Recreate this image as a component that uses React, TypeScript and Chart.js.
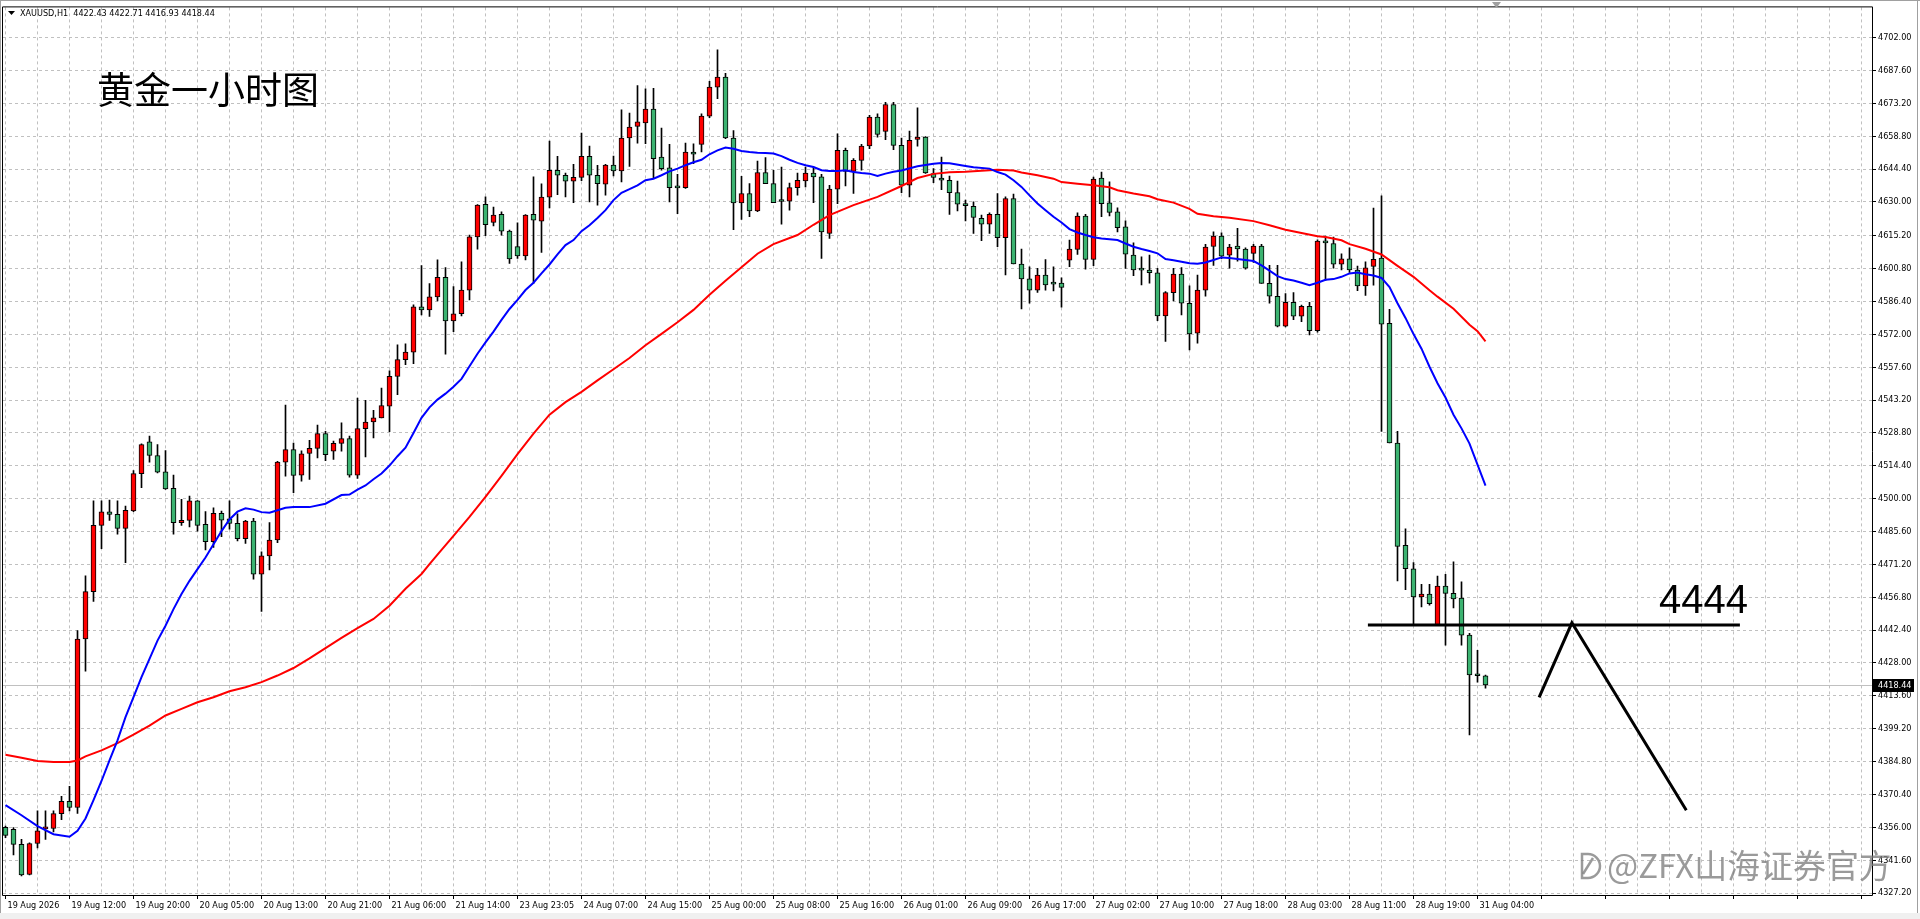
import React, { useEffect, useRef } from 'react';
import { Chart, registerables } from 'chart.js';

Chart.register(...registerables);

// ---------- data (XAUUSD H1) ----------
const opens = [
  4356.0, 4355.1, 4348.5, 4335.4, 4348.9, 4355.3, 4355.5, 4362.0, 4367.4, 4364.7,
  4438.5, 4459.3, 4488.3, 4494.2, 4493.1, 4487.0, 4494.6, 4511.0, 4524.9, 4518.9,
  4511.8, 4504.5, 4489.5, 4490.5, 4499.0, 4488.8, 4481.2, 4493.6, 4491.2, 4489.2,
  4482.5, 4490.2, 4466.9, 4474.9, 4481.9, 4516.0, 4521.5, 4510.3, 4519.8, 4522.0,
  4528.5, 4520.8, 4524.2, 4526.3, 4510.3, 4530.7, 4533.6, 4535.4, 4540.5, 4553.6,
  4560.9, 4564.2, 4584.0, 4582.7, 4588.4, 4597.0, 4577.9, 4581.0, 4591.4, 4614.7,
  4629.0, 4621.0, 4624.6, 4617.2, 4610.4, 4606.4, 4624.6, 4621.6, 4632.1, 4643.9,
  4641.7, 4639.1, 4640.8, 4650.0, 4641.7, 4637.8, 4646.1, 4643.6, 4658.0, 4663.1,
  4664.6, 4670.7, 4649.7, 4644.9, 4636.4, 4636.3, 4651.9, 4655.2, 4667.6, 4680.3,
  4684.7, 4658.0, 4629.6, 4633.7, 4626.1, 4642.9, 4638.0, 4630.4, 4630.3, 4636.3,
  4639.2, 4642.7, 4641.0, 4616.2, 4635.6, 4652.6, 4643.4, 4648.2, 4654.5, 4667.2,
  4660.9, 4672.7, 4654.8, 4637.3, 4657.4, 4658.4, 4642.4, 4640.5, 4639.5, 4634.1,
  4628.6, 4628.1, 4622.8, 4620.3, 4624.6, 4614.4, 4631.5, 4602.8, 4596.3, 4591.4,
  4598.0, 4594.1, 4594.4, 4604.5, 4609.2, 4623.8, 4604.8, 4640.5, 4629.6, 4625.7,
  4619.1, 4606.7, 4600.3, 4600.2, 4599.0, 4580.1, 4590.3, 4598.4, 4585.6, 4572.5,
  4591.4, 4610.5, 4615.0, 4606.7, 4610.7, 4609.4, 4607.5, 4610.7, 4594.3, 4588.7,
  4575.6, 4586.0, 4580.0, 4584.3, 4573.6, 4612.9, 4611.8, 4602.7, 4605.1, 4600.2,
  4593.2, 4601.8, 4605.4, 4576.8, 4524.4, 4479.6, 4469.3, 4456.9, 4458.2, 4444.7,
  4461.7, 4458.5, 4456.4, 4440.2, 4422.6, 4422.43,
];
const highs = [
  4356.5, 4355.9, 4350.7, 4349.2, 4363.2, 4363.2, 4363.2, 4369.6, 4374.0, 4442.2,
  4466.2, 4499.0, 4499.0, 4499.4, 4499.0, 4496.8, 4512.3, 4524.0, 4527.4, 4523.7,
  4521.1, 4510.3, 4499.7, 4501.1, 4499.2, 4494.3, 4496.0, 4494.6, 4499.0, 4493.4,
  4490.5, 4491.4, 4476.7, 4489.5, 4516.4, 4541.0, 4524.4, 4521.0, 4525.6, 4532.2,
  4529.5, 4525.2, 4533.2, 4527.4, 4544.1, 4543.1, 4538.7, 4548.5, 4556.0, 4567.4,
  4567.8, 4584.9, 4602.1, 4594.2, 4604.6, 4601.3, 4592.9, 4603.8, 4615.5, 4628.9,
  4632.2, 4627.8, 4625.7, 4617.7, 4620.9, 4624.5, 4641.0, 4637.9, 4656.7, 4650.0,
  4642.7, 4646.5, 4660.2, 4654.5, 4646.0, 4646.5, 4650.1, 4670.4, 4668.9, 4681.0,
  4679.6, 4679.8, 4662.4, 4655.2, 4642.1, 4655.8, 4655.5, 4668.6, 4682.9, 4696.7,
  4686.4, 4661.3, 4641.2, 4638.0, 4647.9, 4649.4, 4643.9, 4645.3, 4638.3, 4642.7,
  4645.3, 4645.3, 4642.1, 4637.3, 4659.9, 4653.6, 4649.0, 4655.2, 4667.9, 4668.6,
  4673.7, 4673.7, 4658.0, 4661.1, 4671.2, 4658.6, 4644.6, 4649.7, 4641.3, 4639.1,
  4630.8, 4630.0, 4624.2, 4625.2, 4633.7, 4632.2, 4633.4, 4609.4, 4601.6, 4600.9,
  4604.8, 4601.6, 4596.8, 4613.3, 4625.2, 4624.6, 4640.9, 4643.1, 4638.8, 4627.4,
  4621.7, 4612.1, 4606.0, 4606.7, 4600.9, 4590.7, 4600.9, 4601.2, 4593.3, 4598.0,
  4611.4, 4616.9, 4616.5, 4611.4, 4618.4, 4609.9, 4611.4, 4611.4, 4602.2, 4602.2,
  4589.8, 4590.3, 4584.8, 4586.0, 4613.4, 4615.0, 4614.6, 4607.3, 4609.9, 4601.9,
  4603.8, 4627.3, 4632.7, 4582.9, 4529.5, 4486.8, 4472.0, 4462.5, 4462.5, 4466.1,
  4466.9, 4472.3, 4463.6, 4441.0, 4433.6, 4422.71,
];
const lows = [
  4351.5, 4343.9, 4334.7, 4335.1, 4347.0, 4350.7, 4354.0, 4359.4, 4363.2, 4362.1,
  4424.4, 4455.0, 4478.1, 4490.5, 4484.4, 4472.0, 4494.3, 4504.8, 4516.0, 4511.3,
  4504.0, 4484.4, 4488.3, 4487.6, 4485.8, 4477.5, 4478.6, 4483.4, 4486.6, 4481.5,
  4480.4, 4464.7, 4450.6, 4468.8, 4480.7, 4509.9, 4502.6, 4507.7, 4508.4, 4517.9,
  4516.7, 4517.2, 4520.8, 4509.4, 4508.9, 4518.3, 4526.6, 4535.4, 4529.3, 4545.6,
  4558.7, 4559.1, 4580.5, 4579.9, 4586.6, 4563.3, 4573.2, 4580.1, 4587.1, 4609.3,
  4615.2, 4619.5, 4615.5, 4603.1, 4605.3, 4604.6, 4594.3, 4607.9, 4627.4, 4633.2,
  4632.2, 4629.7, 4639.3, 4630.0, 4628.6, 4633.0, 4641.4, 4638.8, 4645.6, 4655.8,
  4655.5, 4640.2, 4643.9, 4630.0, 4624.9, 4635.9, 4646.8, 4651.9, 4666.9, 4675.2,
  4657.7, 4617.9, 4622.3, 4623.5, 4625.7, 4638.0, 4629.7, 4620.3, 4626.4, 4633.0,
  4636.6, 4629.7, 4605.3, 4614.0, 4629.3, 4637.0, 4633.7, 4643.9, 4653.3, 4658.4,
  4657.3, 4652.9, 4634.1, 4632.2, 4654.4, 4642.5, 4638.5, 4635.4, 4624.5, 4626.1,
  4621.7, 4616.2, 4613.0, 4616.2, 4610.4, 4598.0, 4602.8, 4583.1, 4585.6, 4590.4,
  4591.4, 4591.0, 4583.9, 4601.6, 4607.0, 4600.6, 4602.1, 4623.5, 4623.9, 4616.9,
  4600.9, 4597.7, 4593.6, 4594.4, 4578.0, 4568.9, 4586.6, 4580.5, 4565.2, 4568.1,
  4588.7, 4602.2, 4605.1, 4601.0, 4604.1, 4600.6, 4603.5, 4594.3, 4585.6, 4575.2,
  4575.2, 4578.4, 4577.6, 4571.7, 4572.9, 4595.6, 4601.0, 4600.2, 4599.1, 4591.1,
  4589.1, 4593.5, 4529.5, 4524.4, 4464.0, 4460.1, 4444.7, 4452.6, 4453.3, 4444.7,
  4435.8, 4452.1, 4435.8, 4396.5, 4419.6, 4416.93,
];
const closes = [
  4352.5, 4348.5, 4335.1, 4348.9, 4354.5, 4355.6, 4362.0, 4367.4, 4364.7, 4438.5,
  4459.3, 4488.3, 4494.2, 4493.1, 4487.0, 4494.9, 4511.0, 4523.7, 4518.9, 4511.6,
  4504.3, 4489.5, 4490.5, 4499.0, 4488.3, 4481.2, 4493.6, 4490.6, 4489.2, 4482.5,
  4490.2, 4466.9, 4474.9, 4481.9, 4516.0, 4521.5, 4510.2, 4519.6, 4522.0, 4528.5,
  4519.3, 4524.2, 4526.3, 4510.3, 4530.7, 4533.6, 4535.4, 4540.8, 4553.6, 4560.9,
  4564.2, 4584.0, 4582.7, 4588.4, 4597.0, 4577.9, 4581.0, 4591.4, 4614.7, 4628.6,
  4620.1, 4624.2, 4617.2, 4605.0, 4606.4, 4624.2, 4622.0, 4632.1, 4643.9, 4641.7,
  4639.1, 4640.8, 4650.0, 4641.7, 4638.0, 4646.1, 4643.6, 4658.0, 4662.8, 4665.1,
  4670.7, 4649.0, 4644.6, 4636.3, 4636.2, 4651.9, 4650.9, 4667.6, 4680.3, 4684.7,
  4658.0, 4629.6, 4633.7, 4626.1, 4642.9, 4638.0, 4629.7, 4630.2, 4636.3, 4639.5,
  4642.7, 4641.0, 4616.9, 4635.6, 4652.6, 4643.4, 4648.2, 4654.5, 4667.2, 4659.6,
  4672.7, 4654.8, 4637.3, 4657.0, 4658.4, 4642.7, 4640.7, 4639.5, 4634.1, 4629.0,
  4628.4, 4623.2, 4620.3, 4624.6, 4614.4, 4631.5, 4602.8, 4596.3, 4591.4, 4598.0,
  4593.6, 4594.0, 4592.6, 4609.4, 4623.8, 4604.8, 4640.0, 4629.3, 4625.4, 4618.7,
  4607.1, 4600.2, 4600.1, 4599.0, 4580.1, 4590.3, 4598.4, 4585.6, 4572.2, 4591.4,
  4610.2, 4615.0, 4606.2, 4610.2, 4609.4, 4601.0, 4610.7, 4594.3, 4588.7, 4575.6,
  4586.0, 4580.0, 4584.3, 4573.6, 4612.9, 4612.1, 4602.7, 4605.1, 4600.2, 4593.2,
  4601.1, 4604.9, 4576.5, 4524.4, 4479.1, 4469.3, 4456.9, 4458.2, 4454.0, 4461.7,
  4458.5, 4456.1, 4440.2, 4422.8, 4422.4, 4418.44,
];

// moving averages (bar index -> value)
const fastMaBars = [
  0, 2, 4, 6, 8, 9, 10, 11, 12, 13, 14, 15, 16, 17, 18, 19, 20, 21, 22, 23, 24, 25, 26, 27, 28, 29,
  30, 31, 32, 33, 34, 35, 36, 38, 40, 42, 43, 44, 45, 46, 47, 48, 49, 50, 51, 52, 53, 54, 55, 56,
  57, 58, 59, 60, 61, 62, 63, 64, 65, 66, 67, 68, 69, 70, 71, 72, 73, 74, 75, 76, 77, 78, 79, 80,
  81, 82, 83, 84, 85, 86, 87, 88, 89, 90, 91, 92, 93, 94, 95, 96, 97, 98, 99, 100, 101, 102, 103,
  104, 105, 106, 107, 108, 109, 110, 111, 112, 114, 116, 117, 118, 120, 121, 123, 124, 125, 126,
  127, 128, 129, 130, 131, 132, 133, 134, 135, 136, 137, 138, 139, 140, 141, 142, 143, 144, 145,
  146, 147, 148, 149, 150, 151, 152, 153, 154, 155, 156, 157, 158, 159, 160, 161, 162, 163, 164,
  165, 166, 167, 168, 169, 170, 171, 172, 173, 174, 175, 176, 177, 178, 179, 180, 181, 182, 183,
  184, 185,
];
const fastMaValues = [
  4365.7, 4361.3, 4356.5, 4353.0, 4351.9, 4354.5, 4359.9, 4367.9, 4376.3, 4385.3, 4394.1, 4404.3,
  4413.0, 4421.8, 4429.8, 4437.8, 4444.3, 4451.6, 4458.2, 4464.0, 4469.1, 4474.2, 4480.0, 4485.8,
  4490.9, 4494.3, 4495.8, 4495.2, 4494.1, 4493.8, 4494.9, 4496.0, 4496.3, 4496.3, 4497.8, 4501.6,
  4501.8, 4504.0, 4505.8, 4508.5, 4511.0, 4514.5, 4518.6, 4522.3, 4528.8, 4535.4, 4540.0, 4543.4,
  4546.0, 4549.0, 4552.5, 4558.0, 4563.5, 4568.5, 4573.2, 4578.3, 4583.1, 4587.1, 4591.4, 4594.6,
  4598.7, 4602.6, 4607.0, 4611.1, 4613.3, 4617.2, 4619.8, 4623.0, 4626.4, 4630.8, 4634.0, 4635.6,
  4637.3, 4639.5, 4640.2, 4641.7, 4643.4, 4644.6, 4646.1, 4647.4, 4648.5, 4650.9, 4652.6, 4653.8,
  4653.3, 4652.3, 4651.9, 4651.6, 4651.4, 4651.2, 4650.1, 4648.5, 4647.1, 4646.1, 4645.3, 4643.9,
  4643.6, 4643.6, 4643.9, 4643.1, 4642.7, 4642.4, 4641.4, 4642.4, 4643.2, 4643.8, 4645.6, 4646.7,
  4647.1, 4647.0, 4645.8, 4645.2, 4644.6, 4643.1, 4642.0, 4639.5, 4636.6, 4632.9, 4629.3, 4626.4,
  4623.5, 4621.0, 4618.1, 4616.6, 4615.5, 4614.5, 4614.0, 4613.7, 4613.3, 4611.8, 4610.4, 4609.4,
  4608.5, 4607.5, 4605.0, 4604.5, 4603.8, 4603.1, 4602.9, 4603.5, 4604.6, 4605.7, 4605.4, 4605.0,
  4604.6, 4604.1, 4602.2, 4599.9, 4597.5, 4596.2, 4595.6, 4594.6, 4593.5, 4594.6, 4595.9, 4596.2,
  4597.2, 4598.7, 4599.1, 4598.3, 4597.8, 4596.7, 4592.7, 4585.6, 4579.2, 4572.1, 4565.7, 4557.8,
  4550.6, 4544.3, 4536.8, 4530.8, 4524.1, 4514.9, 4505.7,
];
const slowMaBars = [
  0, 2, 4, 6, 8, 9, 10, 12, 14, 16, 18, 20, 22, 24, 26, 28, 30, 32, 34, 36, 38, 40, 42, 44, 46, 48,
  50, 52, 53, 54, 56, 58, 60, 62, 64, 66, 68, 70, 72, 74, 76, 78, 80, 82, 84, 86, 88, 90, 92, 94, 96,
  99, 101, 103, 106, 109, 112, 114, 116, 118, 120, 122, 124, 126, 127, 129, 131, 132, 134, 136, 138,
  139, 141, 143, 144, 146, 148, 149, 151, 153, 156, 158, 160, 162, 164, 165, 167, 168, 170, 172, 173,
  174, 176, 178, 179, 181, 183, 184, 185,
];
const slowMaValues = [
  4387.8, 4386.5, 4385.1, 4384.6, 4384.6, 4385.3, 4387.1, 4389.7, 4392.9, 4396.6, 4400.6, 4405.0,
  4407.9, 4410.8, 4413.0, 4415.6, 4417.4, 4419.6, 4422.5, 4425.8, 4430.0, 4434.5, 4439.0, 4443.3,
  4447.3, 4453.1, 4460.5, 4467.0, 4471.3, 4475.5, 4483.7, 4492.0, 4500.8, 4510.0, 4519.5, 4528.5,
  4536.8, 4542.3, 4546.8, 4551.8, 4556.7, 4561.6, 4567.2, 4572.2, 4577.3, 4582.7, 4589.3, 4595.5,
  4601.4, 4607.3, 4611.5, 4615.5, 4620.0, 4624.2, 4628.6, 4632.2, 4637.0, 4640.5, 4642.3, 4643.0,
  4643.2, 4643.7, 4644.1, 4643.8, 4642.9, 4641.7, 4640.2, 4638.7, 4638.0, 4637.3, 4636.4, 4635.1,
  4633.7, 4632.5, 4631.2, 4629.7, 4627.0, 4624.8, 4623.7, 4623.1, 4621.6, 4619.8, 4617.8, 4616.4,
  4615.0, 4614.6, 4613.2, 4611.5, 4609.5, 4607.0, 4604.5, 4602.0, 4597.2, 4591.3, 4588.5, 4583.2,
  4576.2, 4573.4, 4568.9,
];

// axis labels
const xLabels = [
  '19 Aug 2026', '19 Aug 12:00', '19 Aug 20:00', '20 Aug 05:00', '20 Aug 13:00', '20 Aug 21:00',
  '21 Aug 06:00', '21 Aug 14:00', '23 Aug 23:05', '24 Aug 07:00', '24 Aug 15:00', '25 Aug 00:00',
  '25 Aug 08:00', '25 Aug 16:00', '26 Aug 01:00', '26 Aug 09:00', '26 Aug 17:00', '27 Aug 02:00',
  '27 Aug 10:00', '27 Aug 18:00', '28 Aug 03:00', '28 Aug 11:00', '28 Aug 19:00', '31 Aug 04:00',
];
const yTicks = [
  4327.2, 4341.6, 4356.0, 4370.4, 4384.8, 4399.2, 4413.6, 4428.0, 4442.4, 4456.8, 4471.2, 4485.6,
  4500.0, 4514.4, 4528.8, 4543.2, 4557.6, 4572.0, 4586.4, 4600.8, 4615.2, 4630.0, 4644.4, 4658.8,
  4673.2, 4687.6, 4702.0,
];

// hand-drawn annotations (bar index / price)
const levelLabel = '4444';
const levelPrice = 4444.7;
const levelBars = [170.3, 216.8];
const zigzagBars = [191.7, 195.8, 210.1];
const zigzagPrices = [4412.9, 4445.6, 4363.5];
const titleText = '黄金一小时图';
const symbolText = 'XAUUSD,H1';
const watermarkText = '@ZFX山海证券官方';

const SMALL = "'DejaVu Sans Condensed', 'Liberation Sans', sans-serif";
const UP = '#ff0000';
const DOWN = '#3cb371';

export default function App() {
  const ref = useRef<HTMLCanvasElement | null>(null);

  useEffect(() => {
    document.body.style.margin = '0';
    const canvas = ref.current;
    if (!canvas) return;
    const n = opens.length;
    const idx = opens.map((_, i) => i);
    const bodies = idx.map((i) => ({ x: i, y: [Math.min(opens[i], closes[i]), Math.max(opens[i], closes[i])] }));
    const wicks = idx.map((i) => ({ x: i, y: [lows[i], highs[i]] }));
    const colors = idx.map((i) => (closes[i] >= opens[i] ? UP : DOWN));
    const gridVals: number[] = [];
    for (let v = 0; v <= 232; v += 4) gridVals.push(v);

    const overlay = {
      id: 'overlay',
      beforeDatasetsDraw(chart: any) {
        const { ctx, chartArea: a, scales } = chart;
        const py = Math.round(scales.y.getPixelForValue(closes[n - 1])) + 0.5;
        ctx.save();
        ctx.strokeStyle = '#c0c0c0';
        ctx.lineWidth = 1;
        ctx.beginPath();
        ctx.moveTo(a.left, py);
        ctx.lineTo(a.right, py);
        ctx.stroke();
        ctx.restore();
      },
      afterDraw(chart: any) {
        const { ctx, chartArea: a, scales } = chart;
        const xs = scales.x;
        const ys = scales.y;
        ctx.save();
        // outer frame
        ctx.fillStyle = '#a0a0a0';
        ctx.fillRect(0, 0, 1920, 1);
        ctx.fillRect(0, 0, 1, 913);
        ctx.fillRect(1917, 0, 1, 913);
        ctx.fillStyle = '#f0f0f0';
        ctx.fillRect(0, 913, 1920, 6);
        ctx.strokeStyle = '#000';
        ctx.lineWidth = 1;
        ctx.beginPath();
        ctx.moveTo(a.left - 0.5, a.top - 0.5);
        ctx.lineTo(a.right + 0.5, a.top - 0.5);
        ctx.moveTo(a.left - 0.5, a.top - 0.5);
        ctx.lineTo(a.left - 0.5, a.bottom + 0.5);
        ctx.moveTo(a.left - 0.5, a.bottom + 0.5);
        ctx.lineTo(a.right + 0.5, a.bottom + 0.5);
        ctx.moveTo(a.right + 0.5, a.top - 0.5);
        ctx.lineTo(a.right + 0.5, a.bottom + 0.5);
        ctx.stroke();

        // shift marker
        ctx.fillStyle = '#a0a0a0';
        ctx.beginPath();
        ctx.moveTo(1492, 2);
        ctx.lineTo(1501, 2);
        ctx.lineTo(1496.5, 8);
        ctx.closePath();
        ctx.fill();

        // header
        ctx.fillStyle = '#000';
        ctx.beginPath();
        ctx.moveTo(8, 11);
        ctx.lineTo(15, 11);
        ctx.lineTo(11.5, 15);
        ctx.closePath();
        ctx.fill();
        ctx.font = `9px ${SMALL}`;
        ctx.textBaseline = 'middle';
        ctx.textAlign = 'left';
        const last = n - 1;
        const hdr = `${symbolText}  ${opens[last].toFixed(2)} ${highs[last].toFixed(2)} ${lows[last].toFixed(2)} ${closes[last].toFixed(2)}`;
        ctx.fillText(hdr, 20, 13.5);

        // title
        ctx.font = "37px 'Noto Sans CJK SC'";
        ctx.textBaseline = 'middle';
        ctx.fillText(titleText, 97, 90);

        // current price box
        const py = Math.round(ys.getPixelForValue(closes[last]));
        ctx.fillStyle = '#000';
        ctx.fillRect(a.right + 1, py - 6, 41, 13);
        ctx.fillStyle = '#fff';
        ctx.font = `9px ${SMALL}`;
        ctx.textBaseline = 'middle';
        ctx.fillText(closes[last].toFixed(2), a.right + 6, py + 0.5);

        // annotations
        ctx.strokeStyle = '#000';
        ctx.lineWidth = 3;
        ctx.lineCap = 'butt';
        const ly = ys.getPixelForValue(levelPrice);
        ctx.beginPath();
        ctx.moveTo(xs.getPixelForValue(levelBars[0]), ly);
        ctx.lineTo(xs.getPixelForValue(levelBars[1]), ly);
        ctx.stroke();
        ctx.lineWidth = 3;
        ctx.lineJoin = 'miter';
        ctx.beginPath();
        zigzagBars.forEach((b, k) => {
          const px = xs.getPixelForValue(b);
          const pv = ys.getPixelForValue(zigzagPrices[k]);
          if (k === 0) ctx.moveTo(px, pv);
          else ctx.lineTo(px, pv);
        });
        ctx.stroke();
        ctx.fillStyle = '#000';
        ctx.font = "40px 'Liberation Sans', Arial, sans-serif";
        ctx.textBaseline = 'alphabetic';
        ctx.fillText(levelLabel, xs.getPixelForValue(206.7), ly - 12);

        // watermark
        ctx.font = "30px 'Noto Sans CJK SC'";
        const w = ctx.measureText(watermarkText).width;
        const size = (30 * 285) / w;
        ctx.font = `${size}px 'Noto Sans CJK SC'`;
        ctx.fillStyle = 'rgba(120,120,120,0.75)';
        ctx.fillText(watermarkText, 1607, 878);
        ctx.strokeStyle = 'rgba(120,120,120,0.75)';
        ctx.lineWidth = 2.5;
        ctx.beginPath();
        ctx.arc(1588, 866, 12, -Math.PI / 2, Math.PI / 2);
        ctx.lineTo(1582, 878);
        ctx.lineTo(1582, 854);
        ctx.closePath();
        ctx.stroke();
        ctx.beginPath();
        ctx.moveTo(1583, 874);
        ctx.lineTo(1593, 858);
        ctx.stroke();
        ctx.restore();
      },
    };

    const chart = new Chart(canvas, {
      type: 'bar',
      data: {
        datasets: [
          {
            type: 'line',
            label: 'MA fast',
            data: fastMaBars.map((b, k) => ({ x: b, y: fastMaValues[k] })),
            borderColor: '#0000ff',
            borderWidth: 2,
            pointRadius: 0,
            tension: 0,
            order: -1,
          } as any,
          {
            type: 'line',
            label: 'MA slow',
            data: slowMaBars.map((b, k) => ({ x: b, y: slowMaValues[k] })),
            borderColor: '#ff0000',
            borderWidth: 2,
            pointRadius: 0,
            tension: 0,
            order: -1,
          } as any,
          {
            type: 'bar',
            label: 'body',
            data: bodies as any,
            backgroundColor: colors,
            borderColor: '#000',
            borderWidth: 1,
            borderSkipped: false,
            barThickness: 5,
            grouped: false,
            minBarLength: 2,
            order: 0,
          } as any,
          {
            type: 'bar',
            label: 'wick',
            data: wicks as any,
            backgroundColor: '#000',
            borderWidth: 0,
            barThickness: 1,
            grouped: false,
            order: 1,
          } as any,
        ],
      },
      options: {
        animation: false,
        responsive: false,
        events: [],
        layout: { padding: { left: 3, top: 5, right: 0, bottom: 0 } },
        plugins: { legend: { display: false }, tooltip: { enabled: false } },
        scales: {
          x: {
            type: 'linear',
            min: -0.3125,
            max: 233.3125,
            offset: false,
            afterBuildTicks: (s: any) => {
              s.ticks = gridVals.map((v) => ({ value: v }));
            },
            afterFit: (s: any) => {
              s.height = 24;
            },
            grid: {
              color: '#c0c0c0',
              lineWidth: 1,
              offset: false,
              drawTicks: true,
              tickLength: 4,
              tickColor: (c: any) => (c.tick && c.tick.value % 8 === 0 ? '#000' : 'rgba(0,0,0,0)'),
              tickBorderDash: [],
            },
            border: { display: false, dash: [3, 3] },
            ticks: {
              autoSkip: false,
              maxRotation: 0,
              minRotation: 0,
              align: 'start',
              labelOffset: 2,
              padding: 1,
              color: '#000',
              font: { family: SMALL, size: 9 },
              callback: (v: any) => {
                const k = Number(v);
                return k % 8 === 0 && xLabels[k / 8] ? xLabels[k / 8] : '';
              },
            },
          } as any,
          y: {
            type: 'linear',
            position: 'right',
            min: 4326.35,
            max: 4715.24,
            afterBuildTicks: (s: any) => {
              s.ticks = yTicks.map((v) => ({ value: v }));
            },
            afterFit: (s: any) => {
              s.width = 48;
            },
            grid: {
              color: '#c0c0c0',
              lineWidth: 1,
              drawTicks: true,
              tickLength: 4,
              tickColor: '#000',
              tickBorderDash: [],
            },
            border: { display: false, dash: [3, 3] },
            ticks: {
              autoSkip: false,
              padding: 2,
              color: '#000',
              font: { family: SMALL, size: 9 },
              callback: (v: any) => Number(v).toFixed(2),
            },
          } as any,
        },
      },
      plugins: [overlay],
    });

    return () => chart.destroy();
  }, []);

  return <canvas ref={ref} width={1920} height={919} style={{ display: 'block', width: '1920px', height: '919px' }} />;
}
